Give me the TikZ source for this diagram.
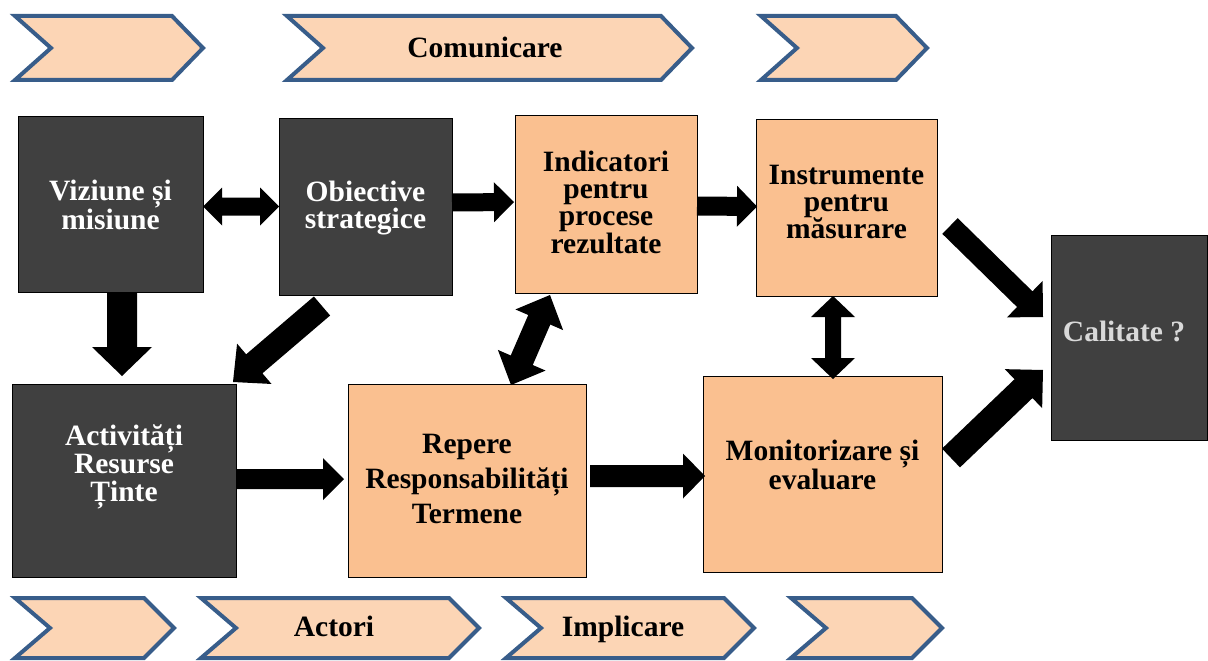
\documentclass[tikz,border=0pt]{standalone}
\usepackage{fontspec}
\setmainfont{Liberation Serif}
\usetikzlibrary{calc}
\definecolor{darkbox}{RGB}{64,64,64}
\definecolor{orangebox}{RGB}{250,192,144}
\definecolor{chevfill}{RGB}{252,213,181}
\definecolor{chevline}{RGB}{56,93,138}
\definecolor{caltext}{RGB}{217,217,217}
\newcommand\blockarr[5]{%
  \path (#1) coordinate (ba) (#2) coordinate (bb);
  \path ($(bb)!#5!(ba)$) coordinate (bh);
  \fill[black] ($(ba)!#3!90:(bb)$) -- ($(bh)!#3!90:(bb)$) -- ($(bh)!#4!90:(bb)$) -- (bb)
    -- ($(bh)!#4!-90:(bb)$) -- ($(bh)!#3!-90:(bb)$) -- ($(ba)!#3!-90:(bb)$) -- cycle;}
\newcommand\dblarr[5]{%
  \path (#1) coordinate (ba) (#2) coordinate (bb);
  \path ($(ba)!#5!(bb)$) coordinate (ha) ($(bb)!#5!(ba)$) coordinate (hb);
  \fill[black] (ba) -- ($(ha)!#4!90:(bb)$) -- ($(ha)!#3!90:(bb)$) -- ($(hb)!#3!-90:(ba)$)
    -- ($(hb)!#4!-90:(ba)$) -- (bb) -- ($(hb)!#4!90:(ba)$) -- ($(hb)!#3!90:(ba)$)
    -- ($(ha)!#3!-90:(bb)$) -- ($(ha)!#4!-90:(bb)$) -- cycle;}
\begin{document}
\begin{tikzpicture}[x=1pt,y=-1pt,
  chev/.style={draw=chevline, fill=chevfill, line width=4pt, line join=miter},
  boxd/.style={draw=black, line width=1pt, fill=darkbox, inner sep=0pt, outer sep=0pt},
  boxo/.style={draw=black, line width=1pt, fill=orangebox, inner sep=0pt, outer sep=0pt},
  txt/.style={font=\fontsize{29.5}{27.3}\selectfont\bfseries, align=center, inner sep=0pt},
  txtw/.style={txt, text=white},
  txtb/.style={txt, text=black}]
\useasboundingbox (0,0) rectangle (1208,661);
% top chevrons
\draw[chev] (15,16) -- (172,16) -- (203,48) -- (172,80) -- (15,80) -- (51,48) -- cycle;
\draw[chev] (287,16) -- (661,16) -- (692,48) -- (661,80) -- (287,80) -- (323,48) -- cycle;
\draw[chev] (761,16) -- (896,16) -- (927,48) -- (896,80) -- (761,80) -- (797,48) -- cycle;
\node[txtb, anchor=base] (com) at (485,58) {Comunicare};
% bottom chevrons
\draw[chev] (15,598) -- (144,598) -- (174,628) -- (144,658) -- (15,658) -- (50,628) -- cycle;
\draw[chev] (201,598) -- (449,598) -- (479,628) -- (449,658) -- (201,658) -- (236,628) -- cycle;
\draw[chev] (506,598) -- (724,598) -- (754,628) -- (724,658) -- (506,658) -- (541,628) -- cycle;
\draw[chev] (791,598) -- (912,598) -- (942,628) -- (912,658) -- (791,658) -- (826,628) -- cycle;
\node[txtb, anchor=base] (actori) at (334,636) {Actori};
\node[txtb, anchor=base] (impl) at (623,636) {Implicare};
% boxes
\node[boxd, minimum width=185pt, minimum height=176pt] (viz) at (110.5,204) {};
\node[boxd, minimum width=173pt, minimum height=177pt] (obj) at (365.5,206.5) {};
\node[boxo, minimum width=182pt, minimum height=178pt] (ind) at (606,204) {};
\node[boxo, minimum width=181pt, minimum height=177pt] (ins) at (846.5,207.5) {};
\node[boxd, minimum width=156pt, minimum height=205pt] (cal) at (1129,337.5) {};
\node[boxd, minimum width=224pt, minimum height=193pt] (act) at (124,480.5) {};
\node[boxo, minimum width=238pt, minimum height=193pt] (rep) at (467,480.5) {};
\node[boxo, minimum width=239pt, minimum height=196pt] (mon) at (822.5,474) {};
% texts
\node[txtw] (vizt) at (110.5,205) {Viziune și\\misiune};
\node[txtw] (objt) at (365.5,208) {Obiective\\strategice};
\node[txtb] (indt) at (606,202) {Indicatori\\pentru\\procese\\rezultate};
\node[txtb] (inst) at (846.5,202) {Instrumente\\pentru\\măsurare};
\node[txt, text=caltext] (calt) at (1124,331) {Calitate ?};
\node[txtw, font=\fontsize{29.5}{28}\selectfont\bfseries] (actt) at (124,467) {Activități\\Resurse\\Ținte};
\node[txtb, font=\fontsize{29.5}{35}\selectfont\bfseries] (rept) at (467,479) {Repere\\Responsabilități\\Termene};
\node[txtb] (mont) at (822.5,465) {Monitorizare și\\evaluare};
% arrows
\dblarr{viz.east |- obj.west}{obj.west}{9pt}{19pt}{19pt}
\blockarr{$(obj.east)+(0,-4)$}{$(ind.west)+(-1,-2)$}{9pt}{20pt}{20pt}
\blockarr{$(ind.east)+(0,2)$}{$(ins.west)+(1,-1)$}{9.5pt}{20.5pt}{20pt}
\blockarr{$(viz.south)+(11.5,1)$}{$(act.north)+(-2,-8)$}{15pt}{30pt}{29pt}
\blockarr{$(obj.south)+(-43.5,11)$}{$(act.north east)+(-3,-2)$}{12.5pt}{26.5pt}{28pt}
\dblarr{$(ind.south west)+(35,2)$}{$(rep.north west)+(163,1)$}{12pt}{26pt}{27pt}
\dblarr{$(ins.south)+(-13.5,0)$}{$(mon.north)+(10.5,3)$}{8pt}{22pt}{21pt}
\blockarr{$(act.east)+(0,-1.5)$}{$(rep.west)+(-4,-1.5)$}{10pt}{21pt}{21pt}
\blockarr{$(rep.east)+(4,-4.5)$}{$(mon.west)+(2,2)$}{11pt}{22.5pt}{22pt}
\blockarr{$(ins.east)+(13,18.5)$}{$(cal.west)+(-8,-20.5)$}{11pt}{25.5pt}{25.5pt}
\blockarr{$(mon.east)+(9,-16)$}{$(cal.west)+(-8,32.5)$}{13pt}{27pt}{27pt}
\end{tikzpicture}
\end{document}
